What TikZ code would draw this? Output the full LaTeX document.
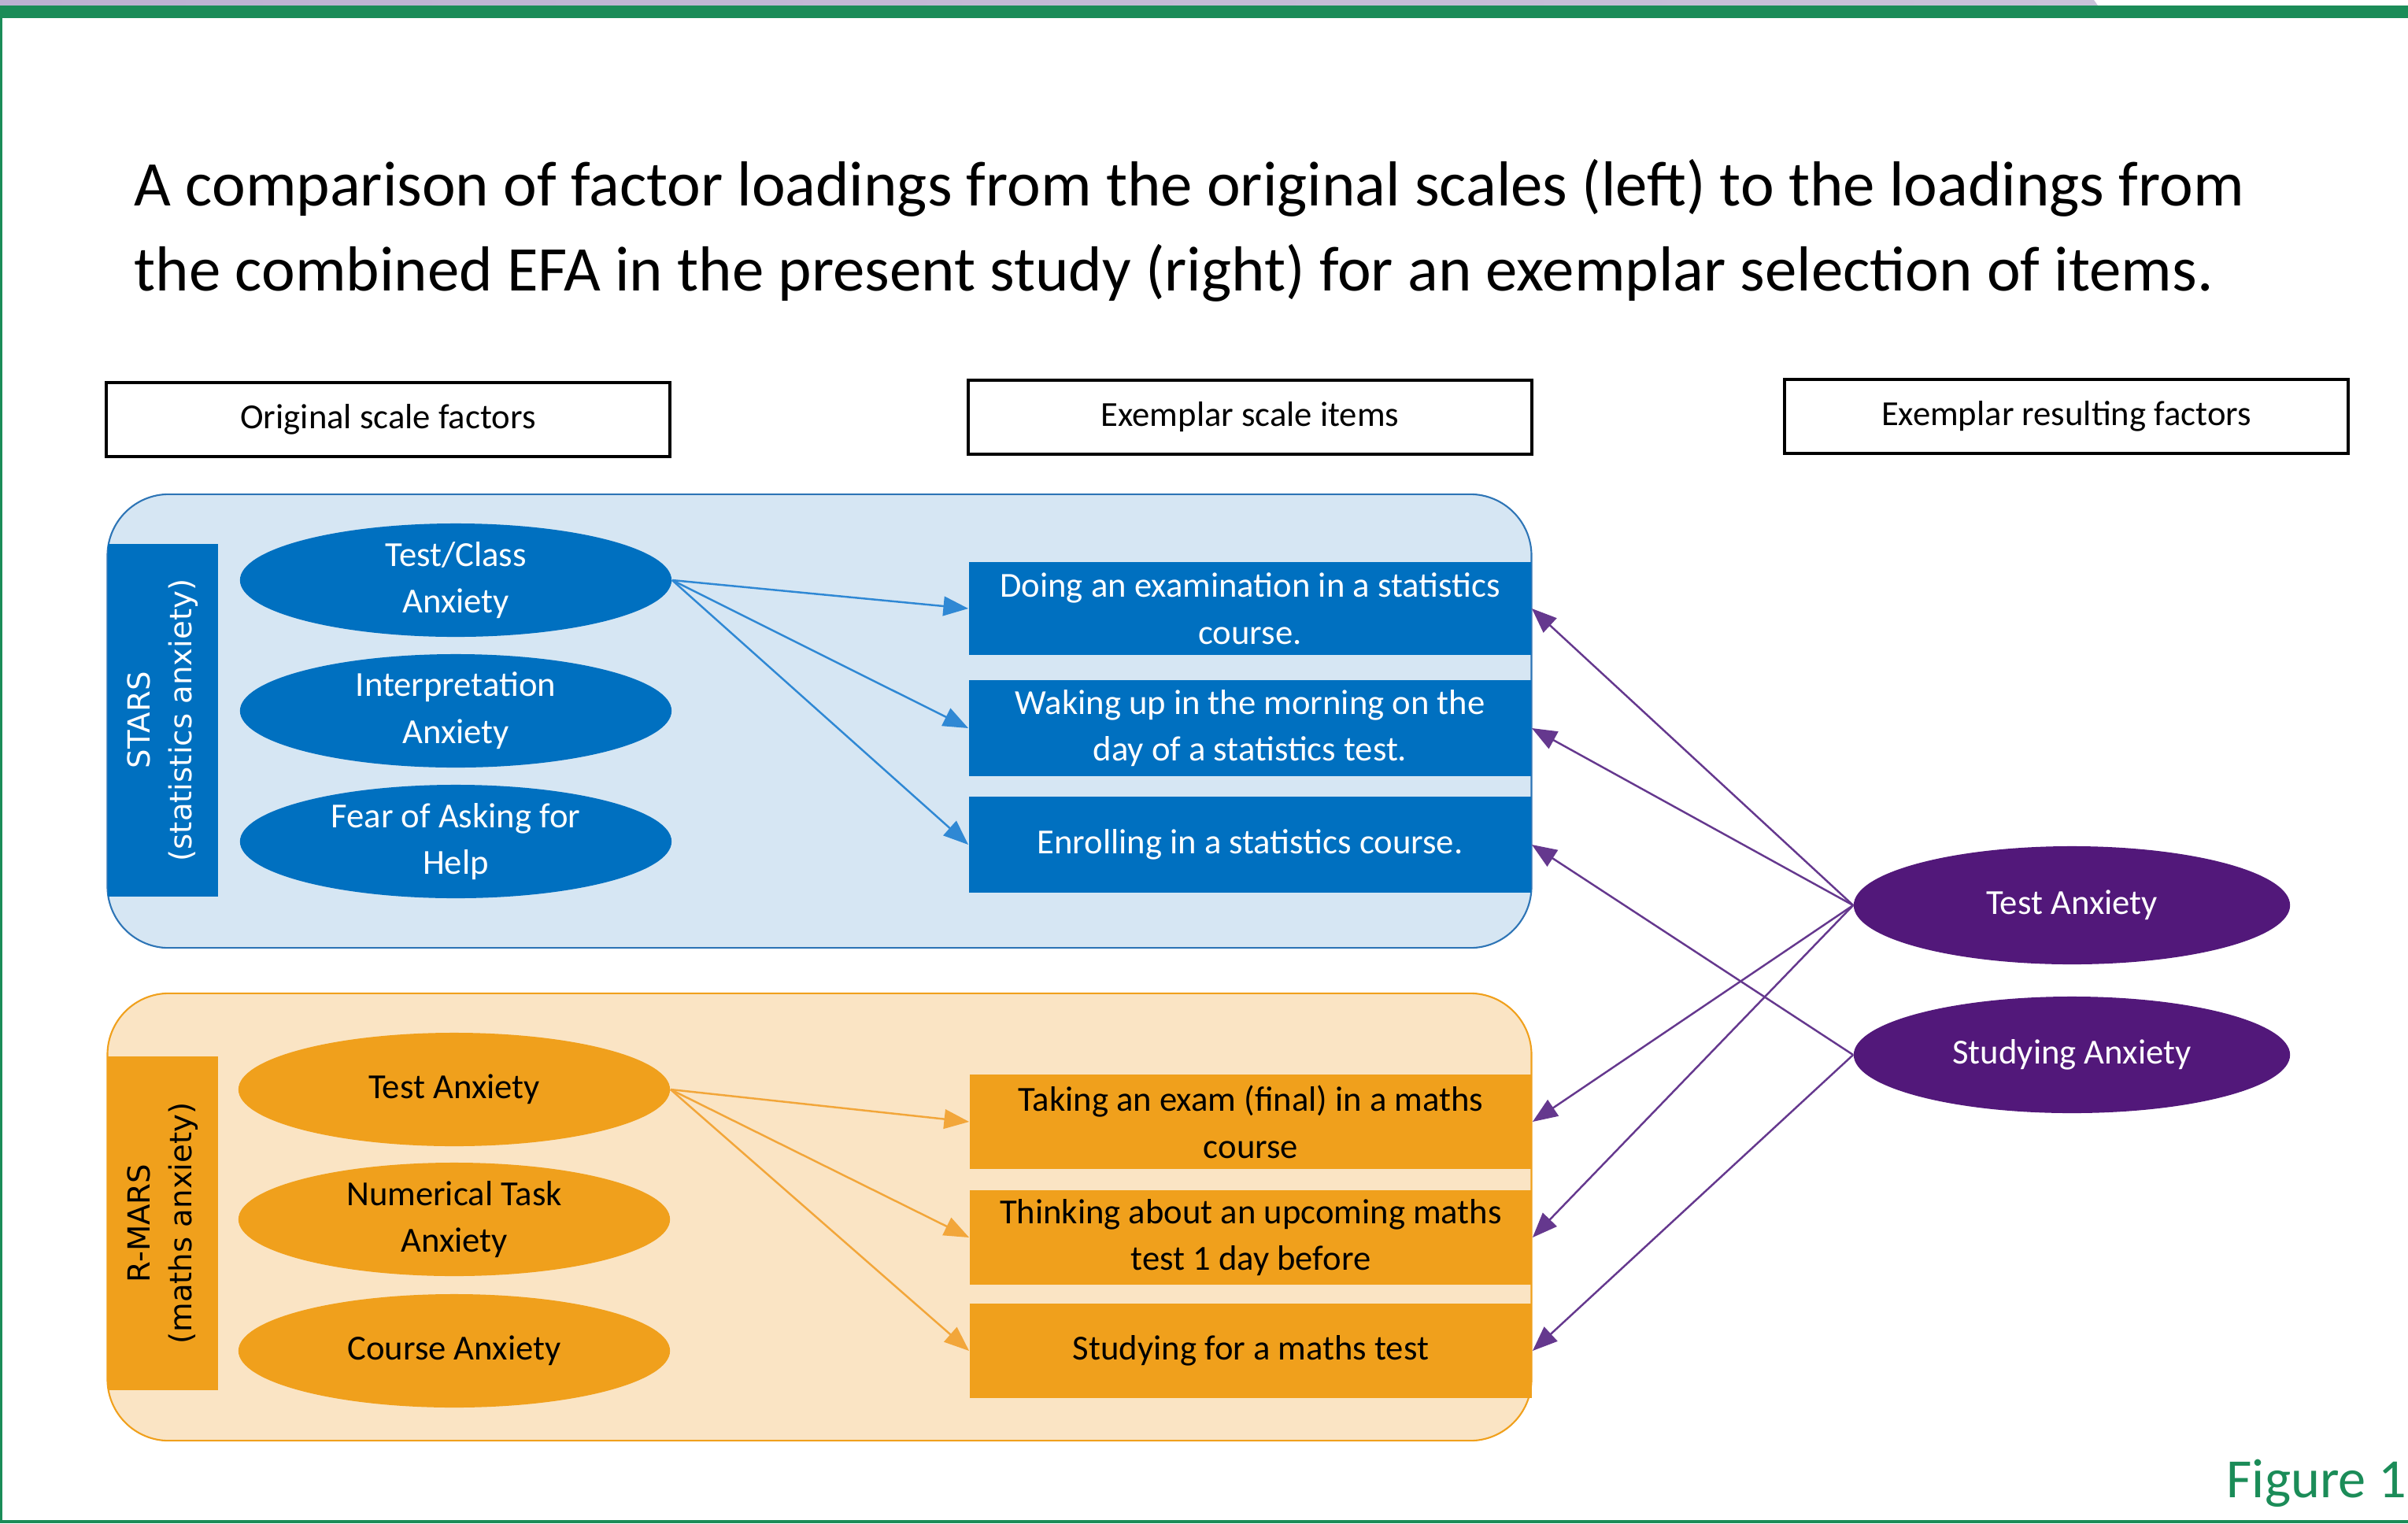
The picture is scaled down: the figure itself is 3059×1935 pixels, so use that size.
\documentclass[tikz,border=0pt]{standalone}
\usepackage{fontspec}
\setmainfont{Carlito}
\newfontfamily\scalefont{DejaVu Sans}
\usetikzlibrary{arrows.meta,positioning,shapes.geometric}

\definecolor{starsblue}{HTML}{0070C0}
\definecolor{starsbg}{HTML}{D6E6F3}
\definecolor{starsedge}{HTML}{2E75B6}
\definecolor{marsorange}{HTML}{F0A01C}
\definecolor{marsbg}{HTML}{FAE4C4}
\definecolor{efapurple}{HTML}{52187A}
\definecolor{efaline}{HTML}{65388E}
\definecolor{bluelinecol}{HTML}{2F88D4}
\definecolor{orangelinecol}{HTML}{F2A63A}
\definecolor{figgreen}{HTML}{1B8C58}
\definecolor{bandlilac}{HTML}{BDB1D2}
\definecolor{bandlilacb}{HTML}{C9C2D9}

\newcommand{\itemsize}{\fontsize{12.7}{17}\selectfont}

\begin{document}
\begin{tikzpicture}[
  x=0.01cm, y=-0.01cm,
  hdrbox/.style={rectangle, draw, line width=1.2pt, minimum width=7.16cm, minimum height=0.94cm, font=\itemsize},
  group/.style={rectangle, rounded corners=0.78cm, line width=0.6pt, minimum width=18.08cm},
  scalelabel/.style={rectangle, rotate=90, minimum height=1.4cm, inner sep=0pt, align=center, font=\scalefont\fontsize{11}{15}\selectfont},
  factor/.style={ellipse, minimum width=5.48cm, minimum height=1.44cm, inner sep=0pt, align=center, font=\itemsize},
  item/.style={rectangle, minimum width=7.14cm, minimum height=1.2cm, inner sep=0pt, align=center, font=\itemsize},
  link/.style={line width=0.7pt, -{Triangle[length=9pt, width=7pt]}},
]
  \useasboundingbox (0,0) rectangle (3059,1935);

  % frame
  \shade[left color=bandlilac, right color=bandlilacb] (0,0) -- (2660,0) -- (2665,7) -- (0,7) -- cycle;
  \fill[figgreen] (0,7) rectangle (3059,23);
  \fill[figgreen] (0,23) rectangle (3,1935);
  \fill[figgreen] (0,1931) rectangle (3059,1935);

  % title
  \node[anchor=base west, inner sep=0pt, font=\fontsize{23}{31}\selectfont] (titlea) at (170,261)
    {A comparison of factor loadings from the original scales (left) to the loadings from};
  \node[anchor=base west, inner sep=0pt, font=\fontsize{23}{31}\selectfont] (titleb) at (170,369)
    {the combined EFA in the present study (right) for an exemplar selection of items.};

  % column headers
  \node[hdrbox] (hdrorig) at (493,533) {Original scale factors};
  \node[hdrbox] (hdritems) at (1588,530) {Exemplar scale items};
  \node[hdrbox] (hdrres) at (2625,529) {Exemplar resulting factors};

  % STARS block
  \node[group, fill=starsbg, draw=starsedge, minimum height=5.76cm] (starsgrp) at (1041,916) {};
  \node[scalelabel, fill=starsblue, text=white, minimum width=4.48cm] (starslabel) at (207,915)
    {STARS\\(statistics anxiety)};
  \node[factor, fill=starsblue, text=white] (tcanx) at (579,737) {Test/Class\\Anxiety};
  \node[factor, fill=starsblue, text=white] (interp) at (579,903) {Interpretation\\Anxiety};
  \node[factor, fill=starsblue, text=white] (fearask) at (579,1069) {Fear of Asking for\\Help};
  \node[item, fill=starsblue, text=white, minimum height=1.18cm] (sitema) at (1588,773)
    {Doing an examination in a statistics\\course.};
  \node[item, fill=starsblue, text=white, minimum height=1.21cm] (sitemb) at (1588,925)
    {Waking up in the morning on the\\day of a statistics test.};
  \node[item, fill=starsblue, text=white, minimum height=1.21cm] (sitemc) at (1588,1073)
    {Enrolling in a statistics course.};

  % R-MARS block
  \node[group, fill=marsbg, draw=marsorange, minimum height=5.68cm] (marsgrp) at (1041,1546) {};
  \node[scalelabel, fill=marsorange, minimum width=4.24cm] (marslabel) at (207,1554)
    {R-MARS\\(maths anxiety)};
  \node[factor, fill=marsorange] (mtest) at (577,1384) {Test Anxiety};
  \node[factor, fill=marsorange] (numtask) at (577,1549) {Numerical Task\\Anxiety};
  \node[factor, fill=marsorange] (course) at (577,1716) {Course Anxiety};
  \node[item, fill=marsorange] (mitema) at (1589,1425) {Taking an exam (final) in a maths\\course};
  \node[item, fill=marsorange] (mitemb) at (1589,1572) {Thinking about an upcoming maths\\test 1 day before};
  \node[item, fill=marsorange] (mitemc) at (1589,1716) {Studying for a maths test};

  % EFA factors
  \node[factor, fill=efapurple, text=white, minimum width=5.54cm, minimum height=1.5cm] (restest) at (2632,1150) {Test Anxiety};
  \node[factor, fill=efapurple, text=white, minimum width=5.54cm, minimum height=1.48cm] (resstudy) at (2632,1340) {Studying Anxiety};

  % loadings
  \draw[link, bluelinecol] (tcanx.east) -- (sitema.west);
  \draw[link, bluelinecol] (tcanx.east) -- (sitemb.west);
  \draw[link, bluelinecol] (tcanx.east) -- (sitemc.west);
  \draw[link, orangelinecol] (mtest.east) -- (mitema.west);
  \draw[link, orangelinecol] (mtest.east) -- (mitemb.west);
  \draw[link, orangelinecol] (mtest.east) -- (mitemc.west);
  \draw[link, efaline] (restest.west) -- (sitema.east);
  \draw[link, efaline] (restest.west) -- (sitemb.east);
  \draw[link, efaline] (restest.west) -- (mitema.east);
  \draw[link, efaline] (restest.west) -- (mitemb.east);
  \draw[link, efaline] (resstudy.west) -- (sitemc.east);
  \draw[link, efaline] (resstudy.west) -- (mitemc.east);

  \node[anchor=base east, inner sep=0pt, text=figgreen, font=\fontsize{20}{24}\selectfont] (figlabel) at (3058,1902) {Figure 1};
\end{tikzpicture}
\end{document}
